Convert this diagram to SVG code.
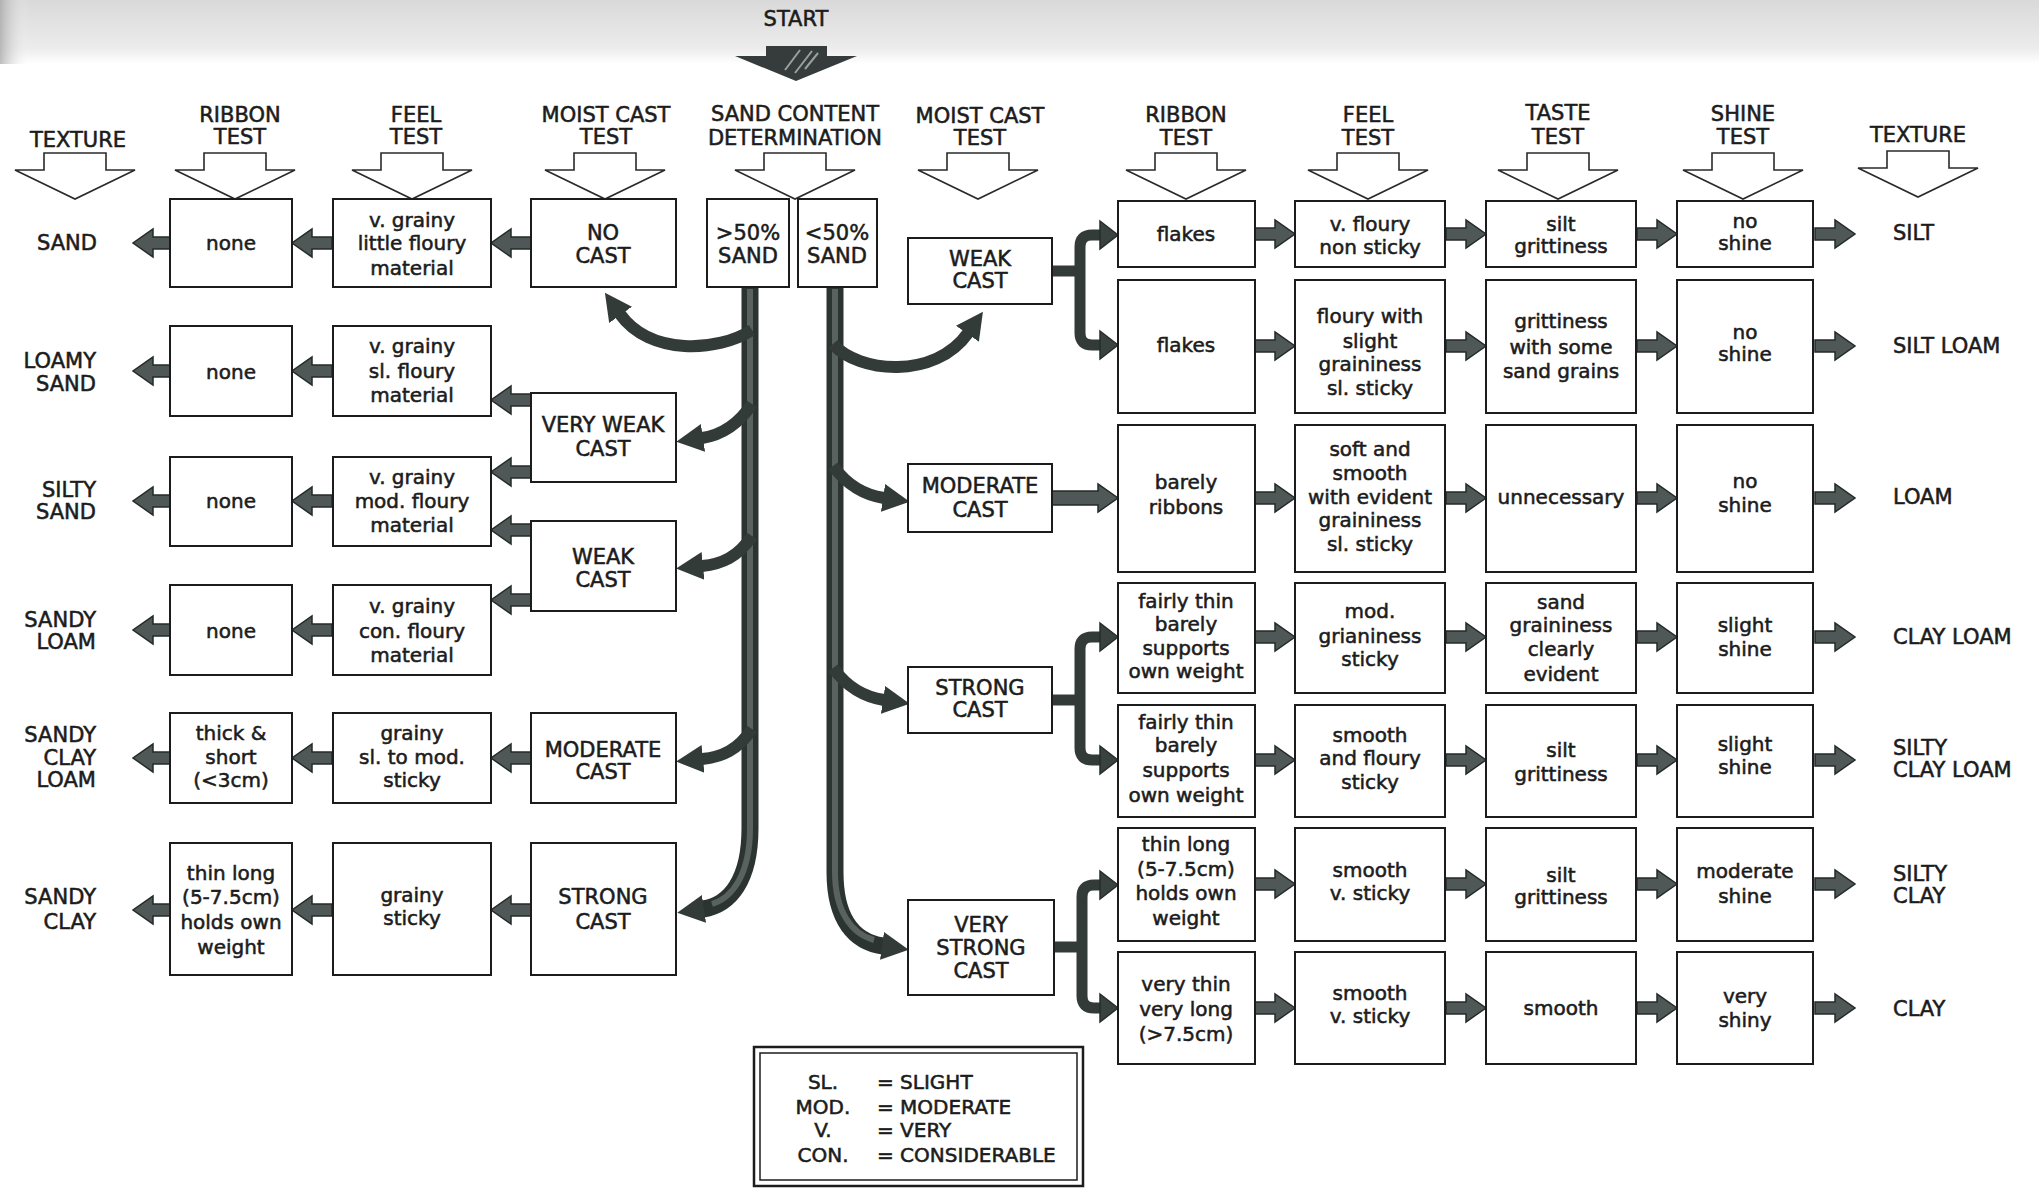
<svg xmlns="http://www.w3.org/2000/svg" xmlns:xlink="http://www.w3.org/1999/xlink" width="2039" height="1188" viewBox="0 0 2039 1188">
<style>
.b{fill:#fff;stroke:#1c1c1c;stroke-width:2}
.t,.c,.lt,.rt,.lg{font-family:"DejaVu Sans",sans-serif;fill:#1c1c1c;stroke:#1c1c1c;stroke-width:0.55}
.t{font-size:20px;text-anchor:middle}
.c{font-size:21px;text-anchor:middle}
.lt{font-size:21px;text-anchor:end}
.rt{font-size:21px;text-anchor:start}
.lg{font-size:20px}
.ha{fill:#fff;stroke:#2a2a2a;stroke-width:1.6}
.ar{fill:#4f5856;stroke:#232b29;stroke-width:1.5}
.tr{fill:none;stroke:#2c3432;stroke-width:17}
.tri{fill:none;stroke:#59625f;stroke-width:6}
.br{fill:none;stroke:#333b39;stroke-width:12}
.bk{fill:none;stroke:#333b39;stroke-width:11}
.hd{fill:#3a4240;stroke:#262e2c;stroke-width:1.5}
</style>
<defs>
<linearGradient id="topg" x1="0" y1="0" x2="0" y2="1">
<stop offset="0" stop-color="#d9d9d9"/>
<stop offset="0.75" stop-color="#ececec"/>
<stop offset="1" stop-color="#ffffff"/>
</linearGradient>
<linearGradient id="leftg" x1="0" y1="0" x2="1" y2="0">
<stop offset="0" stop-color="#a0a0a0" stop-opacity="0.7"/>
<stop offset="1" stop-color="#ffffff" stop-opacity="0"/>
</linearGradient>
<path id="ha" d="M-31,0 H31 V17 H60 L0,46 L-60,17 H-31 Z"/>
<path id="ra" d="M-40,-6 H-20 V-14 L0,0 L-20,14 V6 H-40 Z"/>
<path id="la" d="M40,-6 H20 V-14 L0,0 L20,14 V6 H40 Z"/>
<marker id="mh" markerUnits="userSpaceOnUse" viewBox="0 0 28 32" markerWidth="28" markerHeight="32" refX="1" refY="16" orient="auto">
<path d="M0,2 L27,16 L0,30 Z" fill="#333b39"/>
</marker>
</defs>
<rect x="0" y="0" width="2039" height="1188" fill="#fff"/>
<rect x="0" y="0" width="2039" height="64" fill="url(#topg)"/>
<rect x="0" y="0" width="30" height="64" fill="url(#leftg)"/>

<g id="headers">
<text class="c" x="796" y="26">START</text>
<path d="M766,46 H827 V56 H857 L796,81 L735,56 H766 Z" fill="#353c3b"/>
<path d="M785,70 L800,50 M795,73 L812,51 M805,69 L818,53" stroke="#9aa09e" stroke-width="2"/>
<text class="c" x="78" y="147">TEXTURE</text>
<text class="c" x="240" y="122">RIBBON</text><text class="c" x="240" y="144">TEST</text>
<text class="c" x="416" y="122">FEEL</text><text class="c" x="416" y="144">TEST</text>
<text class="c" x="606" y="122">MOIST CAST</text><text class="c" x="606" y="144">TEST</text>
<text class="c" x="795" y="121">SAND CONTENT</text><text class="c" x="795" y="145">DETERMINATION</text>
<text class="c" x="980" y="123">MOIST CAST</text><text class="c" x="980" y="145">TEST</text>
<text class="c" x="1186" y="122">RIBBON</text><text class="c" x="1186" y="145">TEST</text>
<text class="c" x="1368" y="122">FEEL</text><text class="c" x="1368" y="145">TEST</text>
<text class="c" x="1558" y="120">TASTE</text><text class="c" x="1558" y="144">TEST</text>
<text class="c" x="1743" y="121">SHINE</text><text class="c" x="1743" y="144">TEST</text>
<text class="c" x="1918" y="142">TEXTURE</text>
<use href="#ha" class="ha" x="75" y="153"/>
<use href="#ha" class="ha" x="235" y="153"/>
<use href="#ha" class="ha" x="412" y="153"/>
<use href="#ha" class="ha" x="605" y="153"/>
<use href="#ha" class="ha" x="795" y="153"/>
<use href="#ha" class="ha" x="978" y="153"/>
<use href="#ha" class="ha" x="1186" y="153"/>
<use href="#ha" class="ha" x="1368" y="153"/>
<use href="#ha" class="ha" x="1558" y="153"/>
<use href="#ha" class="ha" x="1743" y="153"/>
<use href="#ha" class="ha" x="1918" y="151"/>
</g>

<g id="connectors">
<path class="tr" d="M750,287 V828 C750,880 730,905 703,909" marker-end="url(#mh)"/>
<path class="tri" d="M750,289 V828 C750,875 732,898 712,904"/>
<path class="tr" d="M835,287 V872 C835,920 855,942 883,946" marker-end="url(#mh)"/>
<path class="tri" d="M835,289 V872 C835,912 852,934 874,940"/>
<path class="br" d="M752,330 C718,352 650,356 620,314" marker-end="url(#mh)"/>
<path class="br" d="M752,404 C738,425 722,435 702,438" marker-end="url(#mh)"/>
<path class="br" d="M752,536 C738,557 722,564 702,566" marker-end="url(#mh)"/>
<path class="br" d="M752,729 C738,750 722,757 702,759" marker-end="url(#mh)"/>
<path class="br" d="M833,344 C858,373 935,380 968,333" marker-end="url(#mh)"/>
<path class="br" d="M833,466 C848,486 864,495 884,498" marker-end="url(#mh)"/>
<path class="br" d="M833,668 C848,688 864,697 884,700" marker-end="url(#mh)"/>

<path class="bk" d="M1052,271 H1080"/>
<path class="bk" d="M1101,235 H1092 Q1080,235 1080,247 V333 Q1080,345 1092,345 H1101"/>
<path class="hd" d="M1100,221 L1118,235 L1100,249 Z"/>
<path class="hd" d="M1100,331 L1118,345 L1100,359 Z"/>
<path class="bk" d="M1052,700 H1080"/>
<path class="bk" d="M1101,637 H1092 Q1080,637 1080,649 V748 Q1080,760 1092,760 H1101"/>
<path class="hd" d="M1100,623 L1118,637 L1100,651 Z"/>
<path class="hd" d="M1100,746 L1118,760 L1100,774 Z"/>
<path class="bk" d="M1054,947 H1082"/>
<path class="bk" d="M1101,885 H1094 Q1082,885 1082,897 V996 Q1082,1008 1094,1008 H1101"/>
<path class="hd" d="M1100,871 L1118,885 L1100,899 Z"/>
<path class="hd" d="M1100,994 L1118,1008 L1100,1022 Z"/>
<path class="ar" d="M1052,491 H1098 V484 L1118,498 L1098,512 V505 H1052 Z"/>

<use href="#ra" class="ar" x="1295" y="234"/><use href="#ra" class="ar" x="1486" y="234"/><use href="#ra" class="ar" x="1677" y="234"/><use href="#ra" class="ar" x="1855" y="234"/>
<use href="#ra" class="ar" x="1295" y="346"/><use href="#ra" class="ar" x="1486" y="346"/><use href="#ra" class="ar" x="1677" y="346"/><use href="#ra" class="ar" x="1855" y="346"/>
<use href="#ra" class="ar" x="1295" y="498"/><use href="#ra" class="ar" x="1486" y="498"/><use href="#ra" class="ar" x="1677" y="498"/><use href="#ra" class="ar" x="1855" y="498"/>
<use href="#ra" class="ar" x="1295" y="637"/><use href="#ra" class="ar" x="1486" y="637"/><use href="#ra" class="ar" x="1677" y="637"/><use href="#ra" class="ar" x="1855" y="637"/>
<use href="#ra" class="ar" x="1295" y="760"/><use href="#ra" class="ar" x="1486" y="760"/><use href="#ra" class="ar" x="1677" y="760"/><use href="#ra" class="ar" x="1855" y="760"/>
<use href="#ra" class="ar" x="1295" y="884"/><use href="#ra" class="ar" x="1486" y="884"/><use href="#ra" class="ar" x="1677" y="884"/><use href="#ra" class="ar" x="1855" y="884"/>
<use href="#ra" class="ar" x="1295" y="1008"/><use href="#ra" class="ar" x="1486" y="1008"/><use href="#ra" class="ar" x="1677" y="1008"/><use href="#ra" class="ar" x="1855" y="1008"/>

<use href="#la" class="ar" x="133" y="243"/><use href="#la" class="ar" x="292" y="243"/><use href="#la" class="ar" x="491" y="243"/>
<use href="#la" class="ar" x="133" y="371"/><use href="#la" class="ar" x="292" y="371"/><use href="#la" class="ar" x="491" y="400"/>
<use href="#la" class="ar" x="133" y="501"/><use href="#la" class="ar" x="292" y="501"/><use href="#la" class="ar" x="491" y="472"/><use href="#la" class="ar" x="491" y="530"/>
<use href="#la" class="ar" x="133" y="630"/><use href="#la" class="ar" x="292" y="630"/><use href="#la" class="ar" x="491" y="600"/>
<use href="#la" class="ar" x="133" y="758"/><use href="#la" class="ar" x="292" y="758"/><use href="#la" class="ar" x="491" y="758"/>
<use href="#la" class="ar" x="133" y="910"/><use href="#la" class="ar" x="292" y="910"/><use href="#la" class="ar" x="491" y="910"/>
</g>

<g id="left-textures">
<text class="lt" x="97" y="250">SAND</text>
<text class="lt" x="96" y="368">LOAMY</text><text class="lt" x="96" y="391">SAND</text>
<text class="lt" x="96" y="497">SILTY</text><text class="lt" x="96" y="519">SAND</text>
<text class="lt" x="96" y="627">SANDY</text><text class="lt" x="96" y="649">LOAM</text>
<text class="lt" x="96" y="742">SANDY</text><text class="lt" x="96" y="765">CLAY</text><text class="lt" x="96" y="787">LOAM</text>
<text class="lt" x="96" y="904">SANDY</text><text class="lt" x="96" y="929">CLAY</text>
</g>

<g id="sand-gt50"><rect class="b" x="707" y="199" width="82" height="88"/><text class="c" x="748" y="240">&gt;50%</text><text class="c" x="748" y="263">SAND</text></g>
<g id="sand-lt50"><rect class="b" x="798" y="199" width="79" height="88"/><text class="c" x="837" y="240">&lt;50%</text><text class="c" x="837" y="263">SAND</text></g>

<g id="no-cast"><rect class="b" x="531" y="199" width="145" height="88"/><text class="c" x="603" y="240">NO</text><text class="c" x="603" y="263">CAST</text></g>
<g id="very-weak-cast-l"><rect class="b" x="531" y="393" width="145" height="89"/><text class="c" x="603" y="432">VERY WEAK</text><text class="c" x="603" y="456">CAST</text></g>
<g id="weak-cast-l"><rect class="b" x="531" y="521" width="145" height="90"/><text class="c" x="603" y="564">WEAK</text><text class="c" x="603" y="587">CAST</text></g>
<g id="moderate-cast-l"><rect class="b" x="531" y="713" width="145" height="90"/><text class="c" x="603" y="757">MODERATE</text><text class="c" x="603" y="779">CAST</text></g>
<g id="strong-cast-l"><rect class="b" x="531" y="843" width="145" height="132"/><text class="c" x="603" y="904">STRONG</text><text class="c" x="603" y="929">CAST</text></g>

<g id="feel-a"><rect class="b" x="333" y="199" width="158" height="88"/><text class="t" x="412" y="227">v. grainy</text><text class="t" x="412" y="250">little floury</text><text class="t" x="412" y="275">material</text></g>
<g id="feel-b"><rect class="b" x="333" y="326" width="158" height="90"/><text class="t" x="412" y="353">v. grainy</text><text class="t" x="412" y="378">sl. floury</text><text class="t" x="412" y="402">material</text></g>
<g id="feel-c"><rect class="b" x="333" y="457" width="158" height="89"/><text class="t" x="412" y="484">v. grainy</text><text class="t" x="412" y="508">mod. floury</text><text class="t" x="412" y="532">material</text></g>
<g id="feel-d"><rect class="b" x="333" y="585" width="158" height="90"/><text class="t" x="412" y="613">v. grainy</text><text class="t" x="412" y="638">con. floury</text><text class="t" x="412" y="662">material</text></g>
<g id="feel-e"><rect class="b" x="333" y="713" width="158" height="90"/><text class="t" x="412" y="740">grainy</text><text class="t" x="412" y="764">sl. to mod.</text><text class="t" x="412" y="787">sticky</text></g>
<g id="feel-f"><rect class="b" x="333" y="843" width="158" height="132"/><text class="t" x="412" y="902">grainy</text><text class="t" x="412" y="925">sticky</text></g>

<g id="ribbon-a"><rect class="b" x="170" y="199" width="122" height="88"/><text class="t" x="231" y="250">none</text></g>
<g id="ribbon-b"><rect class="b" x="170" y="326" width="122" height="90"/><text class="t" x="231" y="379">none</text></g>
<g id="ribbon-c"><rect class="b" x="170" y="457" width="122" height="89"/><text class="t" x="231" y="508">none</text></g>
<g id="ribbon-d"><rect class="b" x="170" y="585" width="122" height="90"/><text class="t" x="231" y="638">none</text></g>
<g id="ribbon-e"><rect class="b" x="170" y="713" width="122" height="90"/><text class="t" x="231" y="740">thick &amp;</text><text class="t" x="231" y="764">short</text><text class="t" x="231" y="787">(&lt;3cm)</text></g>
<g id="ribbon-f"><rect class="b" x="170" y="843" width="122" height="132"/><text class="t" x="231" y="880">thin long</text><text class="t" x="231" y="904">(5-7.5cm)</text><text class="t" x="231" y="929">holds own</text><text class="t" x="231" y="954">weight</text></g>

<g id="weak-cast-r"><rect class="b" x="908" y="238" width="144" height="66"/><text class="c" x="980" y="266">WEAK</text><text class="c" x="980" y="288">CAST</text></g>
<g id="moderate-cast-r"><rect class="b" x="908" y="464" width="144" height="68"/><text class="c" x="980" y="493">MODERATE</text><text class="c" x="980" y="517">CAST</text></g>
<g id="strong-cast-r"><rect class="b" x="908" y="667" width="144" height="66"/><text class="c" x="980" y="695">STRONG</text><text class="c" x="980" y="717">CAST</text></g>
<g id="very-strong-cast-r"><rect class="b" x="908" y="900" width="146" height="95"/><text class="c" x="981" y="932">VERY</text><text class="c" x="981" y="955">STRONG</text><text class="c" x="981" y="978">CAST</text></g>

<g id="row1">
<rect class="b" x="1118" y="201" width="137" height="66"/><text class="t" x="1186" y="241">flakes</text>
<rect class="b" x="1295" y="201" width="150" height="66"/><text class="t" x="1370" y="231">v. floury</text><text class="t" x="1370" y="254">non sticky</text>
<rect class="b" x="1486" y="201" width="150" height="66"/><text class="t" x="1561" y="231">silt</text><text class="t" x="1561" y="253">grittiness</text>
<rect class="b" x="1677" y="201" width="136" height="66"/><text class="t" x="1745" y="228">no</text><text class="t" x="1745" y="250">shine</text>
<text class="rt" x="1893" y="240">SILT</text>
</g>
<g id="row2">
<rect class="b" x="1118" y="280" width="137" height="133"/><text class="t" x="1186" y="352">flakes</text>
<rect class="b" x="1295" y="280" width="150" height="133"/><text class="t" x="1370" y="323">floury with</text><text class="t" x="1370" y="348">slight</text><text class="t" x="1370" y="371">graininess</text><text class="t" x="1370" y="395">sl. sticky</text>
<rect class="b" x="1486" y="280" width="150" height="133"/><text class="t" x="1561" y="328">grittiness</text><text class="t" x="1561" y="354">with some</text><text class="t" x="1561" y="378">sand grains</text>
<rect class="b" x="1677" y="280" width="136" height="133"/><text class="t" x="1745" y="339">no</text><text class="t" x="1745" y="361">shine</text>
<text class="rt" x="1893" y="353">SILT LOAM</text>
</g>
<g id="row3">
<rect class="b" x="1118" y="425" width="137" height="147"/><text class="t" x="1186" y="489">barely</text><text class="t" x="1186" y="514">ribbons</text>
<rect class="b" x="1295" y="425" width="150" height="147"/><text class="t" x="1370" y="456">soft and</text><text class="t" x="1370" y="480">smooth</text><text class="t" x="1370" y="504">with evident</text><text class="t" x="1370" y="527">graininess</text><text class="t" x="1370" y="551">sl. sticky</text>
<rect class="b" x="1486" y="425" width="150" height="147"/><text class="t" x="1561" y="504">unnecessary</text>
<rect class="b" x="1677" y="425" width="136" height="147"/><text class="t" x="1745" y="488">no</text><text class="t" x="1745" y="512">shine</text>
<text class="rt" x="1893" y="504">LOAM</text>
</g>
<g id="row4">
<rect class="b" x="1118" y="583" width="137" height="110"/><text class="t" x="1186" y="608">fairly thin</text><text class="t" x="1186" y="631">barely</text><text class="t" x="1186" y="655">supports</text><text class="t" x="1186" y="678">own weight</text>
<rect class="b" x="1295" y="583" width="150" height="110"/><text class="t" x="1370" y="618">mod.</text><text class="t" x="1370" y="643">grianiness</text><text class="t" x="1370" y="666">sticky</text>
<rect class="b" x="1486" y="583" width="150" height="110"/><text class="t" x="1561" y="609">sand</text><text class="t" x="1561" y="632">graininess</text><text class="t" x="1561" y="656">clearly</text><text class="t" x="1561" y="681">evident</text>
<rect class="b" x="1677" y="583" width="136" height="110"/><text class="t" x="1745" y="632">slight</text><text class="t" x="1745" y="656">shine</text>
<text class="rt" x="1893" y="644">CLAY LOAM</text>
</g>
<g id="row5">
<rect class="b" x="1118" y="705" width="137" height="112"/><text class="t" x="1186" y="729">fairly thin</text><text class="t" x="1186" y="752">barely</text><text class="t" x="1186" y="777">supports</text><text class="t" x="1186" y="802">own weight</text>
<rect class="b" x="1295" y="705" width="150" height="112"/><text class="t" x="1370" y="742">smooth</text><text class="t" x="1370" y="765">and floury</text><text class="t" x="1370" y="789">sticky</text>
<rect class="b" x="1486" y="705" width="150" height="112"/><text class="t" x="1561" y="757">silt</text><text class="t" x="1561" y="781">grittiness</text>
<rect class="b" x="1677" y="705" width="136" height="112"/><text class="t" x="1745" y="751">slight</text><text class="t" x="1745" y="774">shine</text>
<text class="rt" x="1893" y="755">SILTY</text><text class="rt" x="1893" y="777">CLAY LOAM</text>
</g>
<g id="row6">
<rect class="b" x="1118" y="828" width="137" height="113"/><text class="t" x="1186" y="851">thin long</text><text class="t" x="1186" y="876">(5-7.5cm)</text><text class="t" x="1186" y="900">holds own</text><text class="t" x="1186" y="925">weight</text>
<rect class="b" x="1295" y="828" width="150" height="113"/><text class="t" x="1370" y="877">smooth</text><text class="t" x="1370" y="900">v. sticky</text>
<rect class="b" x="1486" y="828" width="150" height="113"/><text class="t" x="1561" y="882">silt</text><text class="t" x="1561" y="904">grittiness</text>
<rect class="b" x="1677" y="828" width="136" height="113"/><text class="t" x="1745" y="878">moderate</text><text class="t" x="1745" y="903">shine</text>
<text class="rt" x="1893" y="881">SILTY</text><text class="rt" x="1893" y="903">CLAY</text>
</g>
<g id="row7">
<rect class="b" x="1118" y="952" width="137" height="112"/><text class="t" x="1186" y="991">very thin</text><text class="t" x="1186" y="1016">very long</text><text class="t" x="1186" y="1041">(&gt;7.5cm)</text>
<rect class="b" x="1295" y="952" width="150" height="112"/><text class="t" x="1370" y="1000">smooth</text><text class="t" x="1370" y="1023">v. sticky</text>
<rect class="b" x="1486" y="952" width="150" height="112"/><text class="t" x="1561" y="1015">smooth</text>
<rect class="b" x="1677" y="952" width="136" height="112"/><text class="t" x="1745" y="1003">very</text><text class="t" x="1745" y="1027">shiny</text>
<text class="rt" x="1893" y="1016">CLAY</text>
</g>

<g id="legend">
<rect x="754" y="1047" width="329" height="139" fill="#fff" stroke="#1c1c1c" stroke-width="2.5"/>
<rect x="760" y="1053" width="317" height="127" fill="none" stroke="#1c1c1c" stroke-width="1.5"/>
<text class="lg" x="823" y="1089" text-anchor="middle">SL.</text><text class="lg" x="877" y="1089">= SLIGHT</text>
<text class="lg" x="823" y="1114" text-anchor="middle">MOD.</text><text class="lg" x="877" y="1114">= MODERATE</text>
<text class="lg" x="823" y="1137" text-anchor="middle">V.</text><text class="lg" x="877" y="1137">= VERY</text>
<text class="lg" x="823" y="1162" text-anchor="middle">CON.</text><text class="lg" x="877" y="1162">= CONSIDERABLE</text>
</g>
</svg>
